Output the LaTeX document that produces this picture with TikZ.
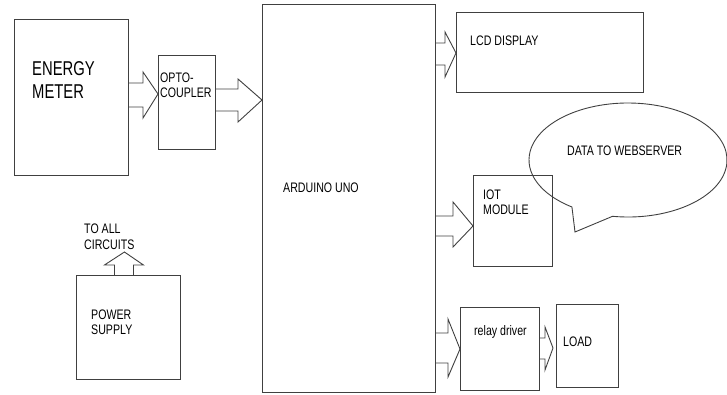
\documentclass[tikz,border=0pt]{standalone}
\usepackage{fontspec}
\setmainfont{Liberation Sans}[FakeStretch=0.77]
\newfontfamily\bigfont{Liberation Sans}[FakeStretch=0.74]
\usetikzlibrary{calc}
\tikzset{
  box/.style={draw=black!75, line width=0.9pt, inner sep=0pt, anchor=north west},
  lbl/.style={anchor=base west, inner sep=0pt, font=\fontsize{13.8}{15}\selectfont, text=black},
  biglbl/.style={anchor=base west, inner sep=0pt, font=\bigfont\fontsize{20}{23}\selectfont, text=black},
  arr/.style={draw=black!75, line width=0.9pt, line join=miter},
}
% block arrow: #1 start anchor, #2 tip anchor, #3/#4 shaft top/bottom y, #5/#6 head top/bottom y, #7 head length, #8 tip y
\newcommand\blockarrow[8]{%
  \draw[arr] (#1 |- 0,#3) -- ($(#2 |- 0,#3)+(-#7,0)$) -- ($(#2 |- 0,#5)+(-#7,0)$)
    -- (#2 |- 0,#8) -- ($(#2 |- 0,#6)+(-#7,0)$) -- ($(#2 |- 0,#4)+(-#7,0)$) -- (#1 |- 0,#4);}
\begin{document}
\begin{tikzpicture}[x=1pt, y=-1pt]
\useasboundingbox (0,0) rectangle (727,394);
% boxes
\node[box, minimum width=114pt, minimum height=156pt] (em) at (14,19) {};
\node[box, minimum width=57pt, minimum height=94pt] (op) at (158,55) {};
\node[box, minimum width=173pt, minimum height=388pt] (ard) at (262,4) {};
\node[box, minimum width=187pt, minimum height=80pt] (lcd) at (456,12) {};
\node[box, minimum width=79pt, minimum height=91pt] (iot) at (473,175) {};
\node[box, minimum width=104pt, minimum height=104pt] (ps) at (76,275) {};
\node[box, minimum width=79pt, minimum height=83pt] (rd) at (460,307) {};
\node[box, minimum width=62pt, minimum height=83pt] (ld) at (556,304) {};
\coordinate (ldtip) at ($(ld.west)+(-3,0)$);
% callout
\draw[arr] (628pt,-160pt) ++(261:99pt and 57pt)
  arc[start angle=261, end angle=595.5, x radius=99pt, y radius=57pt]
  -- (575,232) coordinate (tail) -- cycle;
\node[lbl] (web) at (567,155.5) {DATA TO WEBSERVER};
% labels
\node[biglbl] (t1) at (32,75) {ENERGY};
\node[biglbl] (t2) at (32,98) {METER};
\node[lbl] (t3) at (160,82) {OPTO-};
\node[lbl] (t4) at (160,97) {COUPLER};
\node[lbl] (t5) at (283,192) {ARDUINO UNO};
\node[lbl] (t6) at (470,45.5) {LCD DISPLAY};
\node[lbl] (t7) at (483,199.5) {IOT};
\node[lbl] (t8) at (483,214) {MODULE};
\node[lbl] (t9) at (84,233) {TO ALL};
\node[lbl] (t10) at (84,249) {CIRCUITS};
\node[lbl] (t11) at (91,319) {POWER};
\node[lbl] (t12) at (91,334) {SUPPLY};
\node[lbl] (t13) at (474,335) {relay driver};
\node[lbl] (t14) at (563,346) {LOAD};
% block arrows
\blockarrow{em.east}{op.west}{83}{107}{72}{118}{15}{94}
\blockarrow{op.east}{ard.west}{89}{111}{79}{122}{24}{100}
\blockarrow{ard.east}{lcd.west}{43}{65}{32}{77}{11}{53}
\blockarrow{ard.east}{iot.west}{216}{236}{202}{247}{20}{226}
\blockarrow{ard.east}{rd.west}{333}{363}{319}{377}{12}{349}
\blockarrow{rd.east}{ldtip}{338}{359}{327}{370}{8}{348}
% power up arrow
\draw[arr] ($(ps.north)+(-14,0)$) -- ($(ps.north)+(-14,-10)$) -- ($(ps.north)+(-24,-10)$)
  -- ($(ps.north)+(-4,-23)$) -- ($(ps.north)+(15,-10)$) -- ($(ps.north)+(5,-10)$) -- ($(ps.north)+(5,0)$);
\end{tikzpicture}
\end{document}
